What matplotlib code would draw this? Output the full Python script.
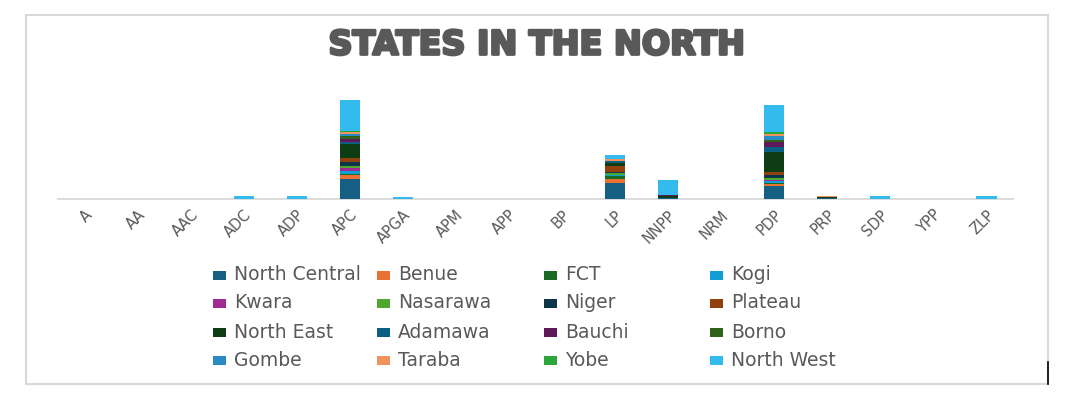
import matplotlib
matplotlib.use('Agg')
import matplotlib.pyplot as plt
import matplotlib.patheffects as pe
from matplotlib.patches import Rectangle
from matplotlib.lines import Line2D
import numpy as np

plt.rcParams['font.family'] = ['DejaVu Sans']

# votes in thousands, per party
parties = ['A', 'AA', 'AAC', 'ADC', 'ADP', 'APC', 'APGA', 'APM', 'APP', 'BP',
           'LP', 'NNPP', 'NRM', 'PDP', 'PRP', 'SDP', 'YPP', 'ZLP']

north_central = [3, 1, 1, 8, 6, 1761, 4, 2, 1, 1, 1414, 61, 2, 1162, 60, 6, 1, 5]
benue         = [0, 0, 0, 1, 1, 310, 1, 0, 0, 0, 308, 5, 0, 130, 15, 1, 0, 1]
fct           = [0, 0, 0, 1, 0, 91, 0, 0, 0, 0, 282, 5, 0, 74, 2, 0, 0, 0]
kogi          = [1, 0, 0, 2, 1, 241, 1, 0, 0, 0, 56, 4, 0, 145, 4, 1, 0, 1]
kwara         = [0, 0, 0, 1, 1, 264, 0, 0, 0, 0, 31, 3, 0, 137, 4, 1, 0, 1]
nasarawa      = [1, 0, 0, 1, 1, 173, 1, 1, 0, 0, 191, 13, 1, 147, 4, 1, 0, 1]
niger         = [1, 0, 0, 1, 1, 375, 1, 0, 0, 0, 80, 22, 0, 285, 6, 1, 0, 1]
plateau       = [0, 0, 0, 1, 1, 307, 0, 0, 0, 0, 466, 9, 0, 244, 8, 1, 0, 1]
north_east    = [2, 1, 1, 6, 5, 1185, 3, 2, 1, 1, 314, 127, 2, 1743, 30, 5, 1, 4]
adamawa       = [0, 0, 0, 1, 1, 183, 1, 0, 0, 0, 106, 8, 0, 418, 5, 1, 0, 1]
bauchi        = [1, 0, 0, 1, 1, 317, 0, 0, 0, 0, 27, 72, 0, 427, 5, 1, 0, 1]
borno         = [0, 0, 0, 1, 1, 252, 0, 0, 0, 0, 7, 5, 0, 191, 4, 1, 0, 1]
gombe         = [0, 0, 0, 1, 1, 147, 0, 0, 0, 0, 26, 11, 0, 319, 4, 1, 0, 0]
taraba        = [0, 0, 0, 1, 1, 135, 1, 0, 0, 0, 146, 13, 0, 189, 90, 1, 0, 1]
yobe          = [0, 0, 0, 1, 0, 151, 0, 0, 0, 0, 2, 18, 0, 199, 2, 0, 0, 0]
north_west    = [10, 4, 4, 230, 210, 2652, 200, 8, 4, 5, 350, 1268, 8, 2330, 4, 210, 4, 200]

series = ['North Central', 'Benue', 'FCT', 'Kogi', 'Kwara', 'Nasarawa', 'Niger', 'Plateau',
          'North East', 'Adamawa', 'Bauchi', 'Borno', 'Gombe', 'Taraba', 'Yobe', 'North West']
values = [north_central, benue, fct, kogi, kwara, nasarawa, niger, plateau,
          north_east, adamawa, bauchi, borno, gombe, taraba, yobe, north_west]
colors = ['#156082', '#E97132', '#196B24', '#0F9ED5', '#A02B93', '#4EA72E', '#0C3547', '#93400F',
          '#0E3D14', '#0B5E84', '#5F1958', '#2E6319', '#2A8AC4', '#F0935E', '#2CA63A', '#33BBEE']

W, H = 1087, 397
fig = plt.figure(figsize=(W / 100, H / 100), dpi=100)
ax = fig.add_axes([58 / W, (H - 199) / H, (1013 - 58) / W, 116 / H])

x = np.arange(len(parties))
bottom = np.zeros(len(parties))
for name, vals, c in zip(series, values, colors):
    v = np.array(vals, dtype=float)
    ax.bar(x, v, 0.38, bottom=bottom, color=c, label=name, linewidth=0, zorder=3)
    bottom += v

ax.set_xlim(-0.5, len(parties) - 0.5)
ax.set_ylim(0, 10000)
ax.set_yticks([])
for s in ['top', 'right', 'left']:
    ax.spines[s].set_visible(False)
ax.spines['bottom'].set_color('#D9D9D9')
ax.spines['bottom'].set_linewidth(1.3)
ax.spines['bottom'].set_zorder(1)
ax.set_xticks(x)
ax.set_xticklabels(parties, rotation=45, ha='right', va='top', rotation_mode='anchor',
                   color='#595959', fontsize=10.5)
ax.tick_params(axis='x', length=0, pad=6)

# title
fig.text(537 / W, 1 - 45 / H, 'STATES IN THE NORTH', ha='center', va='center',
         fontsize=24, fontweight='bold', color='#595959',
         path_effects=[pe.withStroke(linewidth=2, foreground='#595959')])

# legend (Excel style, uniform column widths)
col_x = [213, 377, 544, 710]
row_y = [275, 303, 332, 360]
for i, (name, c) in enumerate(zip(series, colors)):
    r, k = divmod(i, 4)
    px, py = col_x[k], row_y[r]
    fig.patches.append(Rectangle((px / W, 1 - (py + 4.5) / H), 13 / W, 9 / H,
                                 transform=fig.transFigure, facecolor=c,
                                 edgecolor='none'))
    fig.text((px + 21) / W, 1 - py / H, name, ha='left', va='center',
             fontsize=13.5, color='#595959')

# chart border
fig.patches.append(Rectangle((26 / W, 1 - 384 / H), (1048 - 26) / W, (384 - 15) / H,
                             transform=fig.transFigure, facecolor='none',
                             edgecolor='#D9D9D9', linewidth=1.5))
fig.lines.append(Line2D([1048 / W, 1048 / W], [1 - 362 / H, 1 - 384 / H],
                        transform=fig.transFigure, color='black', linewidth=1.2))

fig.savefig('out.png', dpi=100)
